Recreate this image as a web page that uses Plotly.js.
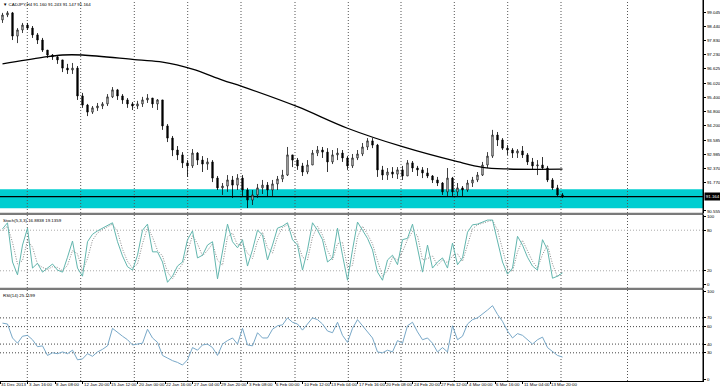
<!DOCTYPE html>
<html><head><meta charset="utf-8">
<script src="https://cdn.plot.ly/plotly-3.0.1.min.js"></script>
<style>html,body{margin:0;padding:0;background:#fff;overflow:hidden}#chart{width:720px;height:387px}</style>
</head><body><div id="chart"></div>
<script>
// ---------- DATA (one candle ≈ 3 H4 bars) ----------
const symbolTitle = "\u25BC CADJPY,H4 91.160 91.243 91.147 91.164";
const stochTitle = "Stoch(5,3,3) 16.8838 19.1359";
const rsiTitle = "RSI(14) 25.1199";

const open = [98.72,98.93,99.02,98.03,98.29,98.50,98.37,98.08,97.86,97.43,
97.22,97.14,97.01,96.66,96.58,96.66,95.47,95.08,94.78,94.96,
95.04,95.13,95.43,95.73,95.47,95.30,95.13,95.04,95.13,95.30,
95.38,95.13,95.30,94.19,93.67,93.16,92.95,92.61,92.48,93.03,
92.73,92.56,92.65,91.96,91.54,91.62,91.88,91.66,91.96,91.45,
91.02,91.24,91.54,91.66,91.45,91.71,91.92,92.09,92.95,92.73,
92.48,92.22,92.52,93.03,93.16,93.07,92.65,92.95,93.03,92.82,
92.48,92.82,92.99,93.29,93.55,93.37,92.31,92.09,92.22,92.13,
92.31,92.05,92.61,92.39,92.31,92.18,92.05,91.88,91.75,91.37,
91.96,91.37,91.54,91.45,91.75,91.88,92.09,92.52,92.90,93.80,
93.59,93.24,93.16,93.03,93.12,92.95,92.65,92.48,92.52,92.39,
91.88,91.54,91.24];
const high = [99.02,99.10,99.06,98.37,98.59,98.59,98.46,98.16,97.95,97.43,
97.26,97.18,97.01,96.84,96.88,96.75,95.60,95.13,95.04,95.17,
95.21,95.55,95.85,95.77,95.55,95.38,95.21,95.26,95.43,95.55,
95.38,95.34,95.30,94.27,93.76,93.33,93.07,92.73,93.20,93.07,
92.90,92.82,92.73,92.05,91.75,92.09,92.05,92.13,92.09,91.54,
91.45,91.71,91.88,91.79,91.88,92.05,92.31,93.29,92.95,92.82,
92.61,92.73,93.16,93.33,93.29,93.24,93.16,93.24,93.16,92.90,
92.99,93.16,93.46,93.67,93.67,93.42,92.48,92.39,92.43,92.43,
92.48,92.73,92.69,92.48,92.43,92.39,92.09,92.01,91.79,92.39,
92.01,91.75,91.62,91.88,92.01,92.22,92.65,93.07,94.02,93.93,
93.67,93.37,93.24,93.20,93.33,93.03,92.82,92.73,92.86,92.48,
91.96,91.67,91.32];
const low = [98.59,98.84,97.86,97.73,98.16,98.29,97.95,97.69,97.35,97.09,
97.01,96.84,96.49,96.41,96.41,95.30,94.96,94.61,94.70,94.83,
94.91,95.04,95.38,95.30,95.13,94.96,94.87,94.91,95.00,95.17,
94.96,94.87,94.02,93.50,92.90,92.73,92.39,92.01,92.39,92.52,
92.22,92.31,91.79,91.45,91.24,91.37,91.11,91.45,91.15,90.68,
90.81,91.11,91.28,91.15,91.19,91.45,91.79,92.05,92.43,92.31,
92.05,92.13,92.52,92.90,92.82,92.22,92.56,92.73,92.65,92.31,
92.39,92.73,92.90,93.16,93.24,92.01,91.88,91.88,91.96,91.92,
91.88,92.05,92.22,92.05,91.96,91.96,91.75,91.62,91.24,91.19,
91.15,91.15,91.19,91.37,91.58,91.79,92.05,92.39,92.82,93.33,
93.16,92.95,92.82,92.82,92.82,92.52,92.31,92.09,92.31,91.79,
91.45,91.15,91.11];
const close = [98.93,99.02,98.03,98.29,98.50,98.37,98.08,97.86,97.43,97.22,
97.14,97.01,96.66,96.58,96.66,95.47,95.08,94.78,94.96,95.04,
95.13,95.43,95.73,95.47,95.30,95.13,95.04,95.13,95.30,95.38,
95.13,95.30,94.19,93.67,93.16,92.95,92.61,92.48,93.03,92.73,
92.56,92.65,91.96,91.54,91.62,91.88,91.66,91.96,91.45,91.02,
91.24,91.54,91.66,91.45,91.71,91.92,92.09,92.95,92.73,92.48,
92.22,92.52,93.03,93.16,93.07,92.65,92.95,93.03,92.82,92.48,
92.82,92.99,93.29,93.55,93.37,92.31,92.09,92.22,92.13,92.31,
92.05,92.61,92.39,92.31,92.18,92.05,91.88,91.75,91.37,91.96,
91.37,91.54,91.45,91.75,91.88,92.09,92.52,92.90,93.80,93.59,
93.24,93.16,93.03,93.12,92.95,92.65,92.48,92.52,92.39,91.88,
91.54,91.24,91.164];

// moving average (smooth black line), read at a few points
const maCandle = [0,8,12,16,27,32,38,44,48,59,69,80,91,96,101,112];
const maValues = [96.84,97.12,97.22,97.22,97.01,96.92,96.62,96.15,95.87,95.01,94.09,93.30,92.66,92.42,92.35,92.34];

const stochMain = [82,91,33,14,58,83,24,31,18,24,30,21,18,40,64,24,12,63,74,79,
83,88,91,63,42,26,21,43,80,89,48,48,33,3,12,27,33,66,79,39,
43,58,63,8,51,89,63,54,66,27,51,80,73,36,58,83,86,91,66,58,
21,51,91,80,66,33,39,83,43,6,51,92,80,68,51,18,6,36,43,29,
66,68,89,54,18,58,24,33,39,24,61,29,39,77,88,89,92,95,95,66,
33,15,24,71,58,40,27,21,66,51,9,12,16.88];
const stochSignal = [80,86,62,30,35,65,55,30,25,22,26,25,20,28,50,45,20,38,65,76,
81,85,89,78,52,34,24,30,60,84,70,50,42,18,8,20,30,48,72,60,
42,50,60,36,28,70,76,58,60,46,38,64,77,54,46,70,84,88,78,62,
40,36,70,86,73,50,36,60,62,25,28,70,86,74,60,35,12,20,40,36,
48,66,78,72,36,38,42,28,36,32,42,45,34,58,82,88,90,93,95,80,
50,24,19,48,65,50,34,24,44,58,30,11,19.14];
const rsiValues = [64,63,47,41,49,50,45,37,38,27,30,29,31,29,33,22,23,29,26,31,
34,38,58,53,49,45,39,40,41,57,47,42,27,24,21,19,16,22,36,33,
39,40,36,27,40,44,47,40,58,39,38,53,47,47,57,61,62,70,65,63,
56,63,70,68,63,55,53,65,50,42,58,68,61,54,47,31,30,33,31,44,
41,61,65,54,45,47,41,31,36,31,61,45,49,63,68,70,74,79,84,74,
66,55,47,52,50,45,40,45,48,36,31,27,25.12];

const priceTicks = [99.045,98.440,97.830,97.230,96.625,96.020,95.400,94.800,94.200,93.585,92.985,92.370,91.770,90.555];
const priceTickText = ["99.045","98.440","97.830","97.230","96.625","96.020","95.400","94.800","94.200","93.585","92.985","92.370","91.770","90.555"];
const stochTicks = [100,80,20,0];
const stochLevels = [80,20];
const rsiTicks = [100,70,60,40,30,0];
const rsiLevels = [70,60,40,30];
const zoneLow = 90.67, zoneHigh = 91.48;
const lastPrice = 91.164, lastPriceText = "91.164";
const dateLabels = ["31 Dec 2013","3 Jan 16:00","8 Jan 08:00","12 Jan 20:00","15 Jan 12:00","20 Jan 00:00","22 Jan 16:00","27 Jan 04:00","29 Jan 20:00","3 Feb 08:00","6 Feb 00:00","10 Feb 12:00","13 Feb 04:00","17 Feb 16:00","20 Feb 08:00","24 Feb 20:00","27 Feb 12:00","4 Mar 00:00","6 Mar 16:00","11 Mar 04:00","13 Mar 20:00"];
// weekly period separators, in candle units
const separatorCandles = [4.96,15.64,26.36,37.04,47.7,58.5,69.16,79.7,90.36,101.04,111.7,125.0];

// ---------- DRAWING ----------
const FONT = "Liberation Sans, Arial, sans-serif";
const FS = 4.4;
const candles = close.map((_, i) => i);
const LABEL_STEP = 5.5;           // candles between date labels
const labelPos = dateLabels.map((_, k) => k * LABEL_STEP - 0.5);

const H = 381; // plot height in px
const pf = px => 1 - px / H;      // px from top -> paper fraction
const mainDom = [pf(213), 1];
const stochDom = [pf(288), pf(215)];
const rsiDom = [0, pf(290)];

const traces = [
  {type:'candlestick', x:candles, open, high, low, close, xaxis:'x', yaxis:'y',
   increasing:{line:{color:'#111', width:0.8}, fillcolor:'#ffffff'},
   decreasing:{line:{color:'#000', width:0.8}, fillcolor:'#000000'},
   whiskerwidth:0, hoverinfo:'skip', showlegend:false},
  {type:'scatter', mode:'lines', x:maCandle, y:maValues, xaxis:'x', yaxis:'y',
   line:{color:'#000', width:1.3, shape:'spline', smoothing:1}, hoverinfo:'skip', showlegend:false},
  {type:'scatter', mode:'lines', x:candles, y:stochSignal, xaxis:'x', yaxis:'y2',
   line:{color:'#8a8a8a', width:1, dash:'1px,1.5px'}, hoverinfo:'skip', showlegend:false},
  {type:'scatter', mode:'lines', x:candles, y:stochMain, xaxis:'x', yaxis:'y2',
   line:{color:'#62b6ae', width:1}, hoverinfo:'skip', showlegend:false},
  {type:'scatter', mode:'lines', x:candles, y:rsiValues, xaxis:'x', yaxis:'y3',
   line:{color:'#78a8c8', width:1}, hoverinfo:'skip', showlegend:false}
];

const yCommon = {side:'right', anchor:'x', showline:true, linecolor:'#000', linewidth:1,
  showgrid:false, zeroline:false, ticks:'outside', ticklen:2, tickcolor:'#000',
  tickfont:{family:FONT, size:FS, color:'#000'}, fixedrange:true};

const shapes = [];
shapes.push({type:'rect', xref:'paper', x0:0, x1:1, yref:'y', y0:zoneLow, y1:zoneHigh,
  fillcolor:'#00CED1', line:{width:0}, layer:'below'});
separatorCandles.forEach(c => shapes.push({type:'line', xref:'x', x0:c, x1:c, yref:'paper', y0:0, y1:1,
  line:{color:'#555', width:1, dash:'1px,2px'}, layer:'below'}));
stochLevels.forEach(v => shapes.push({type:'line', xref:'paper', x0:0, x1:1, yref:'y2', y0:v, y1:v,
  line:{color:'#aaa', width:1, dash:'1px,2px'}, layer:'below'}));
rsiLevels.forEach(v => shapes.push({type:'line', xref:'paper', x0:0, x1:1, yref:'y3', y0:v, y1:v,
  line:{color:'#444', width:1, dash:'1px,2px'}, layer:'below'}));
shapes.push({type:'line', xref:'paper', x0:0, x1:1, yref:'y', y0:lastPrice, y1:lastPrice,
  line:{color:'#000', width:1.2}, layer:'below'});
[213.8, 288.8].forEach(px => shapes.push({type:'line', xref:'paper', x0:0, x1:1, yref:'paper', y0:pf(px), y1:pf(px),
  line:{color:'#7a7a7a', width:2.2}}));
shapes.push({type:'line', xref:'paper', x0:1, x1:1, yref:'paper', y0:0, y1:1, line:{color:'#000', width:1}});

const annotations = [
  {xref:'paper', yref:'paper', x:0, y:1, xanchor:'left', yanchor:'top', xshift:1, yshift:0,
   text:symbolTitle, showarrow:false, font:{family:FONT, size:FS, color:'#000'}},
  {xref:'paper', yref:'paper', x:0, y:stochDom[1], xanchor:'left', yanchor:'top', xshift:1, yshift:-0.5,
   text:stochTitle, showarrow:false, font:{family:FONT, size:FS, color:'#000'}},
  {xref:'paper', yref:'paper', x:0, y:rsiDom[1], xanchor:'left', yanchor:'top', xshift:1, yshift:-0.5,
   text:rsiTitle, showarrow:false, font:{family:FONT, size:FS, color:'#000'}},
  {xref:'paper', yref:'y', x:1, y:lastPrice, xanchor:'left', yanchor:'middle', xshift:0.5,
   text:lastPriceText, showarrow:false, bgcolor:'#000', borderpad:0.8,
   font:{family:FONT, size:FS, color:'#fff'}}
];
dateLabels.forEach((t, k) => annotations.push({xref:'x', yref:'paper', x:labelPos[k], y:pf(384),
  xanchor:'left', yanchor:'middle', borderpad:0, text:t, showarrow:false,
  font:{family:FONT, size:FS, color:'#000'}}));

const layout = {
  width:720, height:387, margin:{l:0, r:17, t:0, b:6, pad:0},
  paper_bgcolor:'#fff', plot_bgcolor:'#fff', showlegend:false, boxgap:0.6,
  xaxis:{range:[-0.5, 140.1], anchor:'y3', showgrid:false, zeroline:false, showline:true,
    linecolor:'#000', linewidth:1, tickvals:labelPos, ticks:'outside', ticklen:1.5, tickcolor:'#000',
    showticklabels:false, rangeslider:{visible:false}, fixedrange:true},
  yaxis:Object.assign({}, yCommon, {domain:mainDom, range:[90.468, 99.571], tickvals:priceTicks, ticktext:priceTickText}),
  yaxis2:Object.assign({}, yCommon, {domain:stochDom, range:[-5.47, 102.5], tickvals:stochTicks}),
  yaxis3:Object.assign({}, yCommon, {domain:rsiDom, range:[-2.29, 101.95], tickvals:rsiTicks}),
  shapes, annotations
};

Plotly.newPlot('chart', traces, layout, {staticPlot:true, displayModeBar:false});
</script>
</body></html>
